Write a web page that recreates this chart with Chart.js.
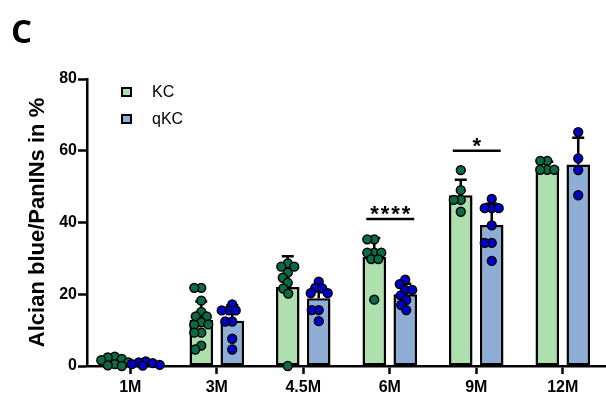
<!DOCTYPE html>
<html>
<head>
<meta charset="utf-8">
<script src="https://cdn.jsdelivr.net/npm/chart.js@4.4.0/dist/chart.umd.min.js"></script>
<style>
  html,body{margin:0;padding:0;background:#fff;}
  #wrap{position:relative;width:606px;height:399px;overflow:hidden;}
  #panel{position:absolute;left:11px;top:14px;font:bold 33px "Open Sans",sans-serif;line-height:1;color:#000;}
  #legend{position:absolute;left:121px;top:79px;font:16px "Liberation Sans",Arial,sans-serif;color:#000;}
  #legend .row{display:flex;align-items:center;height:26.4px;}
  #legend .box{width:7px;height:6px;border:2px solid #000;margin-right:20px;}
</style>
</head>
<body>
<div id="wrap">
  <canvas id="chart" width="606" height="399"></canvas>
  <div id="panel">C</div>
  <div id="legend"></div>
</div>
<script>
// ===== Datos =====
const groups = ['1M', '3M', '4.5M', '6M', '9M', '12M'];
const yTicks = [0, 20, 40, 60, 80];

const kcMean  = [1.2, 12.8, 22.0, 30.4, 47.6, 55.6];
const qkcMean = [0.6, 12.6, 18.9, 20.0, 39.3, 56.2];
const kcSD    = [0.9, 5.2, 8.6, 5.3, 4.3, 1.3];
const qkcSD   = [0.4, 4.3, 3.6, 2.9, 5.9, 7.4];

// puntos individuales por grupo
const kcPoints = [
  [2.6, 2.4, 2.0, 1.6, 1.0, 0.5, 0.2, 0],
  [21.8, 21.8, 18.2, 15.1, 13.8, 13.8, 12.2, 11.5, 11.6, 9.3, 9.3, 5.7, 4.6],
  [28.6, 27.7, 27.7, 26.0, 24.6, 23.2, 21.6, 20.2, 0],
  [35.3, 35.3, 31.6, 31.6, 31.6, 29.8, 29.8, 18.5],
  [54.6, 49.0, 46.3, 46.3, 43.0],
  [57.2, 57.2, 54.7, 54.7, 54.7]
];
const qkcPoints = [
  [1.3, 1.0, 0.8, 0.5, 0.3, 0.1],
  [17.2, 15.5, 15.5, 15.5, 12.4, 12.4, 7.6, 4.6],
  [23.5, 21.8, 21.6, 20.3, 20.3, 15.6, 15.6, 12.5],
  [24.1, 22.8, 21.2, 21.2, 19.7, 18.4, 17.0, 15.6],
  [46.6, 44.0, 44.0, 44.0, 39.2, 34.3, 34.3, 29.3],
  [65.2, 57.9, 54.6, 47.6]
];

// significancia (KC vs qKC)
const sigLabels  = ['', '', '', '****', '*', ''];
const sigHeights = [null, null, null, 41, 60, null];

const FONT = '"Liberation Sans", Arial, sans-serif';

// ===== Plugins =====
const errorBars = {
  id: 'errorBars',
  afterDatasetDraw(chart, args){
    const ds = chart.data.datasets[args.index];
    if(!ds.sd) return;
    const y = chart.scales.y, c = chart.ctx;
    c.save();
    c.strokeStyle = '#000';
    c.lineWidth = 2.5;
    args.meta.data.forEach((bar, i) => {
      const top = y.getPixelForValue(ds.data[i] + ds.sd[i]);
      c.beginPath();
      c.moveTo(bar.x, bar.y);
      c.lineTo(bar.x, top);
      c.moveTo(bar.x - 6, top);
      c.lineTo(bar.x + 6, top);
      c.stroke();
    });
    c.restore();
  }
};

// beeswarm simple: desplazamiento más cercano al centro sin solaparse
function swarm(values, cx, yScale){
  const placed = [];
  const minD = 7;
  return values.map(v => {
    const py = yScale.getPixelForValue(v);
    let best = 0, bestGap = -1;
    for(let k = 0; k <= 56; k++){
      const dx = (k % 2 ? -1 : 1) * Math.ceil(k / 2) * 0.5;
      const gap = placed.length ? Math.min(...placed.map(p => Math.hypot(p.x - (cx + dx), p.y - py))) : 99;
      if(gap >= minD){ best = dx; break; }
      if(gap > bestGap){ bestGap = gap; best = dx; }
    }
    const pt = {x: cx + best, y: py};
    placed.push(pt);
    return pt;
  });
}

const dots = {
  id: 'dots',
  afterDatasetsDraw(chart){
    const y = chart.scales.y, c = chart.ctx;
    c.save();
    c.lineWidth = 1.5;
    c.strokeStyle = '#000';
    [[0, kcPoints], [1, qkcPoints]].forEach(([dsIdx, pts]) => {
      const meta = chart.getDatasetMeta(dsIdx);
      c.fillStyle = chart.data.datasets[dsIdx].dotColor;
      pts.forEach((vals, i) => {
        swarm(vals, meta.data[i].x, y).forEach(p => {
          c.beginPath();
          c.arc(p.x, p.y, 4.4, 0, Math.PI * 2);
          c.fill();
          c.stroke();
        });
      });
    });
    c.restore();
  }
};

const sigBars = {
  id: 'sigBars',
  afterDatasetsDraw(chart){
    const y = chart.scales.y, c = chart.ctx;
    const m0 = chart.getDatasetMeta(0), m1 = chart.getDatasetMeta(1);
    c.save();
    sigLabels.forEach((lab, i) => {
      if(!lab) return;
      const x1 = m0.data[i].x - 8, x2 = m1.data[i].x + 9;
      const yPx = y.getPixelForValue(sigHeights[i]);
      c.strokeStyle = '#000';
      c.lineWidth = 2.5;
      c.beginPath();
      c.moveTo(x1, yPx);
      c.lineTo(x2, yPx);
      c.stroke();
      c.fillStyle = '#000';
      c.font = 'bold 22px ' + FONT;
      c.letterSpacing = '2px';
      c.textAlign = 'center';
      c.textBaseline = 'alphabetic';
      c.fillText(lab, (x1 + x2) / 2 + 1, yPx + 2);
    });
    c.restore();
  }
};

// ===== Chart =====
const tickFont = {family: FONT, size: 16, weight: 'bold'};

const chart = new Chart(document.getElementById('chart'), {
  type: 'bar',
  data: {
    labels: groups,
    datasets: [
      {label: 'KC', data: kcMean, sd: kcSD, backgroundColor: '#aee0ae', dotColor: '#0b6b45',
       borderColor: '#000', borderWidth: 2.5, borderSkipped: false,
       categoryPercentage: 0.716, barPercentage: 0.76},
      {label: 'qKC', data: qkcMean, sd: qkcSD, backgroundColor: '#8eaed6', dotColor: '#0000cc',
       borderColor: '#000', borderWidth: 2.5, borderSkipped: false,
       categoryPercentage: 0.716, barPercentage: 0.76}
    ]
  },
  options: {
    responsive: false,
    animation: false,
    layout: {padding: {top: 79, left: 0, right: 0, bottom: 0}},
    plugins: {legend: {display: false}, tooltip: {enabled: false}},
    scales: {
      x: {
        type: 'category', offset: true,
        grid: {offset: false, drawOnChartArea: false, tickLength: 8, tickWidth: 2.5, tickColor: '#000'},
        border: {color: '#000', width: 2.5},
        ticks: {color: '#000', font: tickFont, padding: 4, maxRotation: 0},
        afterFit(s){ s.height = 33; }
      },
      y: {
        min: 0, max: 80,
        afterBuildTicks(s){ s.ticks = yTicks.map(v => ({value: v})); },
        grid: {drawOnChartArea: false, tickLength: 9, tickWidth: 2.5, tickColor: '#000'},
        border: {color: '#000', width: 2.5},
        ticks: {color: '#000', font: tickFont, padding: 1},
        title: {display: true, text: 'Alcian blue/PanINs in %', color: '#000',
                font: {family: FONT, size: 22, weight: 'bold'}, padding: {top: 25, bottom: 0}},
        afterFit(s){ s.width = 87; }
      }
    }
  },
  plugins: [errorBars, dots, sigBars]
});

// ===== Leyenda HTML =====
const legendEl = document.getElementById('legend');
chart.data.datasets.forEach(ds => {
  const row = document.createElement('div');
  row.className = 'row';
  row.innerHTML = `<span class="box" style="background:${ds.backgroundColor}"></span><span>${ds.label}</span>`;
  legendEl.appendChild(row);
});
</script>
</body>
</html>
